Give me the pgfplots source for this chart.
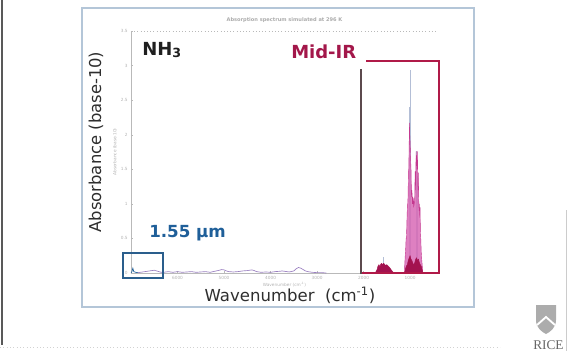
\documentclass[border=0pt]{standalone}
\usepackage{pgfplots}
\pgfplotsset{compat=1.18}
\usepackage{fontspec}
\setmainfont{DejaVu Sans}
\newfontfamily\ricefont{Liberation Serif}
\definecolor{framec}{HTML}{B4C6D8}
\definecolor{crimc}{HTML}{B01A48}
\definecolor{crimtxt}{HTML}{A3174A}
\definecolor{edgec}{HTML}{5C4A4E}
\definecolor{bluec}{HTML}{1F5F99}
\definecolor{boxblue}{HTML}{2A5E8C}
\definecolor{pinkc}{HTML}{D86AB6}
\definecolor{pinkd}{HTML}{C4388F}
\definecolor{darkcrim}{HTML}{A3124F}
\definecolor{spikec}{HTML}{B3BED6}
\definecolor{violetc}{HTML}{9A7FC0}
\definecolor{labc}{HTML}{2E2E2E}
\begin{document}
\begin{tikzpicture}
\begin{scope}[x=0.75pt,y=-0.75pt]
\useasboundingbox (0,0) rectangle (568,351);
\draw[framec, line width=0.8pt] (82,8) rectangle (474,307);
\draw[gray!70!black, line width=1.4pt] (2,0) -- (2,345);
\draw[gray!35, line width=0.5pt, dotted] (0,347) -- (500,347);
\draw[gray!40, line width=0.6pt] (566,210) -- (566,351);
\end{scope}
\begin{axis}[
  at={(98.25pt,-204.75pt)}, anchor=south west,
  scale only axis, width=230.25pt, height=181.5pt,
  x dir=reverse, xmin=400, xmax=7000, ymin=0, ymax=3.5,
  xtick={1000,2000,3000,4000,5000,6000},
  ytick={0,0.5,1,1.5,2,2.5,3,3.5},
  axis lines*=left,
  axis line style={gray!55, line width=0.4pt},
  tick style={gray!55, line width=0.3pt}, major tick length=1.5pt,
  tick label style={font=\fontsize{3.2}{4}\selectfont, text=gray!60},
  /pgf/number format/assume math mode=true,
  /pgf/number format/1000 sep={},
  xticklabel style={yshift=1pt},
  yticklabel style={xshift=1pt},
  xlabel={Wavenumber (cm\textsuperscript{-1})},
  xlabel style={font=\fontsize{3.2}{4}\selectfont, text=gray!60, yshift=5pt},
  ylabel={Absorbance (base-10)},
  ylabel style={font=\fontsize{3.2}{4}\selectfont, text=gray!60, yshift=-4pt},
  title={Absorption spectrum simulated at 296 K},
  title style={font=\fontsize{3.8}{4}\selectfont\bfseries, text=gray!65, yshift=-3pt},
]
% 1.55 um region and weak overtone/combination bands
\addplot[bluec, line width=0.5pt] coordinates {
(7000,0.0) (6980,0.02) (6960,0.07) (6940,0.02) (6900,0.01) (6850,0.005)};
\addplot[violetc, line width=0.5pt] coordinates {
(6850,0.005) (6800,0.01) (6700,0.02) (6600,0.03) (6550,0.035) (6500,0.04) (6450,0.03) (6400,0.02) (6350,0.01)
(6300,0.01) (6200,0.02) (6100,0.01) (6000,0.02) (5900,0.01) (5800,0.015) (5700,0.02) (5600,0.01)
(5500,0.015) (5400,0.02) (5300,0.01) (5200,0.025) (5100,0.04) (5050,0.05) (5000,0.045) (4950,0.03)
(4900,0.02) (4800,0.015) (4700,0.02) (4600,0.03) (4500,0.035) (4450,0.04) (4400,0.045) (4350,0.035)
(4300,0.02) (4200,0.01) (4100,0.015) (4000,0.01) (3900,0.02) (3800,0.025) (3750,0.03) (3700,0.025)
(3600,0.015) (3500,0.03) (3450,0.06) (3400,0.08) (3350,0.07) (3300,0.05) (3250,0.03) (3200,0.02)
(3100,0.01) (3000,0.005) (2900,0.005) (2800,0.0)};
% spikes
\addplot[ycomb, spikec, line width=0.45pt, mark=none] coordinates {
(1000,2.94) (1010,2.4) (993,1.9) (1020,1.6) (857,1.76) (843,1.4) (871,1.5) (1582,0.23)};
% nu2 band (pink)
\addplot[fill=pinkc, draw=pinkd, line width=0.3pt, fill opacity=0.85] coordinates {
(727,0) (740,0.12) (750,0.2) (760,0.3) (770,0.5) (778,0.6) (785,0.95) (792,0.8) (800,1.0) (808,0.9)
(815,1.1) (822,1.45) (830,1.2) (836,1.5) (843,1.76) (850,1.5) (857,1.7) (864,1.55) (871,1.76) (878,1.4)
(885,1.2) (892,1.47) (900,1.1) (910,1.0) (920,1.05) (930,0.95) (940,1.1) (950,1.0) (960,1.2) (970,1.1)
(978,1.47) (986,1.6) (993,1.76) (1000,1.9) (1007,2.0) (1014,2.17) (1022,1.76) (1029,1.5) (1036,1.47)
(1044,1.1) (1051,1.0) (1058,0.98) (1066,0.8) (1074,0.6) (1080,0.5) (1086,0.5) (1095,0.35) (1105,0.25)
(1115,0.12) (1122,0)} \closedcycle;
% dark crimson base
\addplot[fill=darkcrim, draw=darkcrim, line width=0.3pt] coordinates {
(727,0) (740,0.05) (760,0.1) (780,0.12) (800,0.15) (820,0.2) (840,0.18) (860,0.22) (880,0.2) (900,0.15)
(920,0.12) (940,0.14) (960,0.18) (980,0.2) (1000,0.25) (1020,0.22) (1040,0.18) (1060,0.12) (1080,0.1)
(1100,0.06) (1122,0)} \closedcycle;
% nu4 band
\addplot[fill=darkcrim, draw=darkcrim, line width=0.3pt] coordinates {
(1750,0.0) (1710,0.05) (1690,0.1) (1670,0.12) (1650,0.09) (1630,0.13) (1610,0.14) (1590,0.12) (1570,0.14)
(1550,0.13) (1530,0.11) (1500,0.12) (1470,0.1) (1440,0.08) (1410,0.05) (1387,0.03) (1350,0.0)} \closedcycle;
\end{axis}
\begin{scope}[x=0.75pt,y=-0.75pt]
\draw[gray!55, dotted, line width=0.4pt] (131,31) -- (438,31);
\draw[boxblue, line width=1.2pt] (123,253) rectangle (163,278);
\draw[crimc, line width=1.5pt] (366,61) -- (439,61) -- (439,273) -- (361,273);
\draw[edgec, line width=1.5pt] (361,69) -- (361,273.7);
\node[rotate=90, text=labc, font=\fontsize{12.3}{14}\selectfont] at (96,142) {Absorbance (base-10)};
\node[text=labc, font=\fontsize{12.4}{14}\selectfont] at (290,295) {Wavenumber\ \ (cm\textsuperscript{-1})};
\node[text=black!88, font=\fontsize{13.5}{15}\selectfont\bfseries, anchor=west, inner sep=0pt] at (142,50) {NH\textsubscript{3}};
\node[text=crimtxt, font=\fontsize{13.5}{15}\selectfont\bfseries, anchor=west, inner sep=0pt] at (291,51.5) {Mid-IR};
\node[text=bluec, font=\fontsize{12.5}{14}\selectfont\bfseries, anchor=west, inner sep=0pt] at (149,233) {1.55 μm};
% logo
\fill[gray!65] (536,305) -- (556,305) -- (556,320) .. controls (556,328) and (550,332) .. (546,334) .. controls (542,332) and (536,328) .. (536,320) -- cycle;
\draw[white, line width=1.4pt] (537,325) -- (546,317) -- (555,325);
\node[text=gray!80!black, font=\ricefont\fontsize{10}{12}\selectfont, anchor=south west, inner sep=0pt] at (533,349.5) {RICE};
\end{scope}
\end{tikzpicture}
\end{document}
